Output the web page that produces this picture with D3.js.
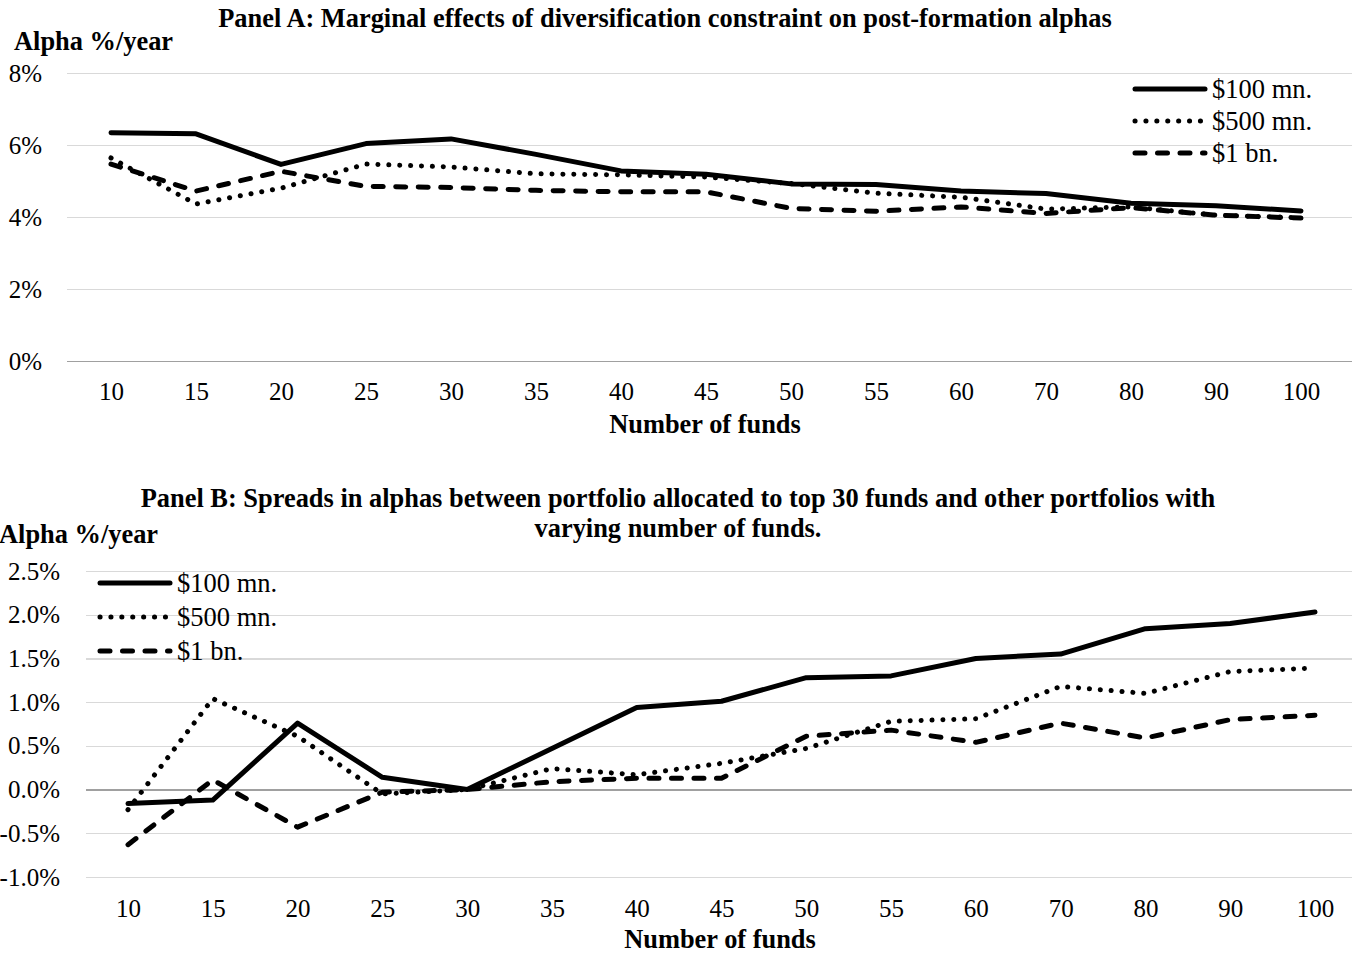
<!DOCTYPE html>
<html lang="en">
<head>
	<meta charset="UTF-8">
	<title>Diversification constraint alphas</title>
	<style type="text/css">
		body{
			margin: 0;
			background: #fff;
		}
		svg text {
			font-family: "Liberation Serif", "Times New Roman", serif;
			fill: #000;
		}
		.axis text {
			font-size: 25px;
		}
		.grid line {
			stroke: #d9d9d9;
			stroke-width: 1.3;
			shape-rendering: crispEdges;
		}
		.grid .domain { display: none; }
		.x .domain { display: none; }
		.title, .label {
			font-size: 26.4px;
			font-weight: bold;
		}
		.legend text { font-size: 26.5px; }
		.series {
			fill: none;
			stroke: #000;
			stroke-width: 5;
			stroke-linejoin: round;
			stroke-linecap: round;
		}
	</style>
	<script src="https://d3js.org/d3.v7.min.js"></script>
</head>
<body>
<script type="text/javascript">
	// categories and values (alpha, % per year)
	var funds = ["10", "15", "20", "25", "30", "35", "40", "45", "50", "55", "60", "70", "80", "90", "100"];
	var seriesNames = ["$100 mn.", "$500 mn.", "$1 bn."];

	var panelA100 = [6.34, 6.31, 5.46, 6.04, 6.17, 5.74, 5.28, 5.19, 4.92, 4.90, 4.72, 4.65, 4.38, 4.31, 4.17];
	var panelA500 = [5.64, 4.36, 4.80, 5.47, 5.39, 5.20, 5.17, 5.11, 4.93, 4.66, 4.55, 4.22, 4.28, 4.05, 3.98];
	var panelA1bn = [5.47, 4.72, 5.27, 4.85, 4.82, 4.74, 4.70, 4.70, 4.24, 4.16, 4.28, 4.10, 4.26, 4.05, 3.97];

	var panelB100 = [-0.16, -0.12, 0.76, 0.14, 0.00, 0.47, 0.94, 1.01, 1.28, 1.30, 1.50, 1.55, 1.84, 1.90, 2.03];
	var panelB500 = [-0.23, 1.04, 0.61, -0.05, 0.00, 0.24, 0.17, 0.30, 0.47, 0.78, 0.81, 1.18, 1.10, 1.35, 1.39];
	var panelB1bn = [-0.63, 0.11, -0.43, -0.03, 0.00, 0.09, 0.13, 0.13, 0.61, 0.68, 0.54, 0.76, 0.59, 0.80, 0.85];

	var ticksA = [0, 2, 4, 6, 8];
	var ticksB = [-1, -0.5, 0, 0.5, 1, 1.5, 2, 2.5];

	var fullWidth = 1352;
	var fullHeight = 955;

	// line styles: solid, round dots, long dashes
	var dashes = [null, "0.1 10.8", "10 12.5"];

	var svg = d3.select("body")
		.append("svg")
		.attr("width", fullWidth)
		.attr("height", fullHeight);

	function drawPanel(cfg) {
		var g = svg.append("g");

		var x = d3.scalePoint()
			.domain(funds)
			.range(cfg.xRange);

		var y = d3.scaleLinear()
			.domain(cfg.yDomain)
			.range(cfg.yRange);

		// gridlines + y labels
		var yAxis = d3.axisLeft(y)
			.tickValues(cfg.yTicks)
			.tickSize(-(fullWidth - cfg.gridLeft))
			.tickPadding(cfg.yPad)
			.tickFormat(cfg.yFormat);

		var grid = g.append("g")
			.attr("class", "grid axis")
			.attr("transform", "translate(" + cfg.gridLeft + ",0)")
			.call(yAxis);

		grid.selectAll(".tick")
			.filter(function(d) { return d === 0; })
			.select("line")
			.style("stroke", "#a0a0a0");

		// x labels
		g.append("g")
			.attr("class", "x axis")
			.attr("transform", "translate(0," + cfg.yRange[0] + ")")
			.call(d3.axisBottom(x).tickSize(0).tickPadding(cfg.xPad));

		var line = d3.line()
			.x(function(d, i) { return x(funds[i]); })
			.y(function(d) { return y(d); });

		cfg.series.forEach(function(s, i) {
			g.append("path")
				.datum(s)
				.attr("class", "series")
				.attr("d", line)
				.style("stroke-dasharray", dashes[i]);
		});

		// titles
		cfg.title.forEach(function(t, i) {
			g.append("text")
				.attr("class", "title")
				.attr("x", cfg.titleX)
				.attr("y", cfg.titleY + i * 30)
				.attr("text-anchor", "middle")
				.text(t);
		});

		g.append("text")
			.attr("class", "label")
			.attr("x", cfg.yLabelX)
			.attr("y", cfg.yLabelY)
			.text("Alpha %/year");

		g.append("text")
			.attr("class", "label")
			.attr("x", cfg.xLabelX)
			.attr("y", cfg.xLabelY)
			.attr("text-anchor", "middle")
			.text("Number of funds");

		// legend
		var legend = g.append("g")
			.attr("class", "legend")
			.attr("transform", "translate(" + cfg.legendX + "," + cfg.legendY + ")");

		seriesNames.forEach(function(name, i) {
			var row = legend.append("g")
				.attr("transform", "translate(0," + (i * cfg.legendStep) + ")");
			row.append("line")
				.attr("class", "series")
				.attr("x1", 0)
				.attr("x2", 70)
				.attr("y1", 0)
				.attr("y2", 0)
				.style("stroke-dasharray", dashes[i]);
			row.append("text")
				.attr("x", 77)
				.attr("y", 9)
				.text(name);
		});
	}

	drawPanel({
		xRange: [111, 1301],
		yDomain: [0, 8],
		yRange: [361, 73],
		yTicks: ticksA,
		yFormat: function(d) { return d + "%"; },
		gridLeft: 67,
		yPad: 25,
		xPad: 21,
		series: [panelA100, panelA500, panelA1bn],
		title: ["Panel A: Marginal effects of diversification constraint on post-formation alphas"],
		titleX: 665,
		titleY: 27,
		yLabelX: 14,
		yLabelY: 50,
		xLabelX: 705,
		xLabelY: 433,
		legendX: 1135,
		legendY: 89,
		legendStep: 32
	});

	drawPanel({
		xRange: [128, 1315],
		yDomain: [-1, 2.5],
		yRange: [877, 571],
		yTicks: ticksB,
		yFormat: function(d) { return (d < 0 ? "-" : "") + Math.abs(d).toFixed(1) + "%"; },
		gridLeft: 86,
		yPad: 26,
		xPad: 22,
		series: [panelB100, panelB500, panelB1bn],
		title: ["Panel B: Spreads in alphas between portfolio allocated to top 30 funds and other portfolios with",
			"varying number of funds."],
		titleX: 678,
		titleY: 507,
		yLabelX: -1,
		yLabelY: 543,
		xLabelX: 720,
		xLabelY: 948,
		legendX: 100,
		legendY: 583,
		legendStep: 34
	});
</script>
</body>
</html>
